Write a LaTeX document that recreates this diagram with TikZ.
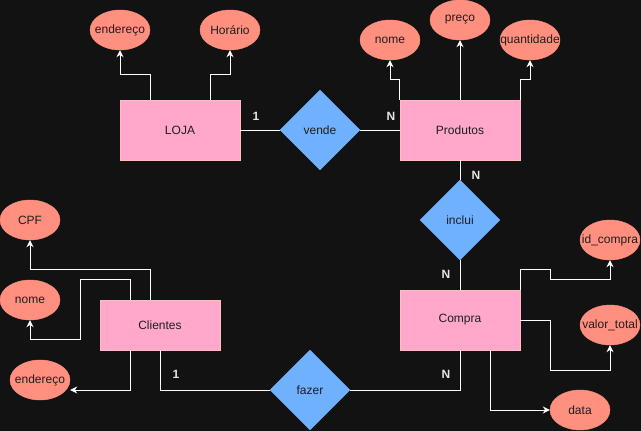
\documentclass[tikz,border=0pt]{standalone}
\usepackage{fontspec}
\setmainfont{Liberation Sans}
\usetikzlibrary{shapes.geometric,arrows.meta}
\definecolor{fundo}{HTML}{121212}
\definecolor{rosa}{HTML}{FFA8CC}
\definecolor{bordarosa}{HTML}{FFBDBD}
\definecolor{salmao}{HTML}{FF8F7F}
\definecolor{azul}{HTML}{70B1FF}
\definecolor{texto}{HTML}{1E1E1E}
\definecolor{rotulo}{HTML}{E6E6E6}
\tikzset{
  entidade/.style={draw=bordarosa,fill=rosa,minimum width=120pt,minimum height=60pt,inner sep=0,text=texto},
  atributo/.style={ellipse,draw=salmao,fill=salmao,minimum width=60pt,minimum height=40pt,inner xsep=-25pt,inner ysep=0,text=texto},
  relacao/.style={diamond,draw=azul,fill=azul,minimum width=80pt,minimum height=80pt,inner sep=0,text=texto},
  liga/.style={draw=white,line width=1pt},
  seta/.style={liga,-{Stealth[length=7pt,width=7pt]}},
  card/.style={text=rotulo,font=\fontsize{12}{14}\selectfont\bfseries}
}
\begin{document}
\begin{tikzpicture}[x=1pt,y=-1pt,font=\fontsize{12}{14}\selectfont]
\fill[fundo] (0,0) rectangle (641,431);
\useasboundingbox (0,0) rectangle (641,431);
% entidades
\node[entidade] (loja) at (180,130) {LOJA};
\node[entidade] (produtos) at (460,130) {Produtos};
\node[entidade] (compra) at (460,320) {Compra};
\node[entidade,minimum height=50pt] (clientes) at (160,325) {Clientes};
% relacoes
\node[relacao] (vende) at (320,130) {vende};
\node[relacao] (inclui) at (460,220) {inclui};
\node[relacao] (fazer) at (310,390) {fazer};
% atributos
\node[atributo] (endloja) at (120,30) {endereço};
\node[atributo] (horario) at (230,30) {Horário};
\node[atributo] (nomeprod) at (390,40) {nome};
\node[atributo] (preco) at (460,20) {preço};
\node[atributo] (quant) at (530,40) {quantidade};
\node[atributo] (idcompra) at (610,240) {id\_compra};
\node[atributo] (valor) at (610,325) {valor\_total};
\node[atributo] (data) at (580,410) {data};
\node[atributo] (cpf) at (30,220) {CPF};
\node[atributo] (nomecli) at (30,300) {nome};
\node[atributo] (endcli) at (40,380) {endereço};
% cardinalidades
\node[card] (c1) at (256,116) {1};
\node[card] (c2) at (391,116) {N};
\node[card] (c3) at (476,175) {N};
\node[card] (c4) at (446,274) {N};
\node[card] (c5) at (446,374) {N};
\node[card] (c6) at (176,374) {1};
% ligacoes
\draw[liga] (loja) -- (vende) -- (produtos);
\draw[liga] (produtos) -- (inclui) -- (compra);
\draw[liga] (compra.south) |- (fazer.east);
\draw[liga] (clientes.south) |- (fazer.west);
\draw[seta] ([xshift=-30pt]loja.north) -- ++(0,-25) -| (endloja.south);
\draw[seta] ([xshift=30pt]loja.north) -- ++(0,-25) -| (horario.south);
\draw[seta] (produtos.north west) -- ++(0,-20) -| (nomeprod.south);
\draw[seta] (produtos.north) -- (preco.south);
\draw[seta] (produtos.north east) -- ++(0,-20) -| (quant.south);
\draw[seta] (compra.north east) -- ++(0,-20) -- ++(30,0) -- ++(0,10) -| (idcompra.south);
\draw[seta] (compra.east) -- ++(30,0) -- ++(0,50) -| (valor.south);
\draw[seta] ([xshift=30pt]compra.south) |- (data.west);
\draw[seta] ([xshift=-10pt]clientes.north) -- ++(0,-30) -| (cpf.south);
\draw[seta] ([xshift=-30pt]clientes.north) -- ++(0,-20) -- ++(-50,0) -- ++(0,60) -| (nomecli.south);
\draw[seta] ([xshift=-30pt]clientes.south) |- ([yshift=-10pt]endcli.east);
\end{tikzpicture}
\end{document}
